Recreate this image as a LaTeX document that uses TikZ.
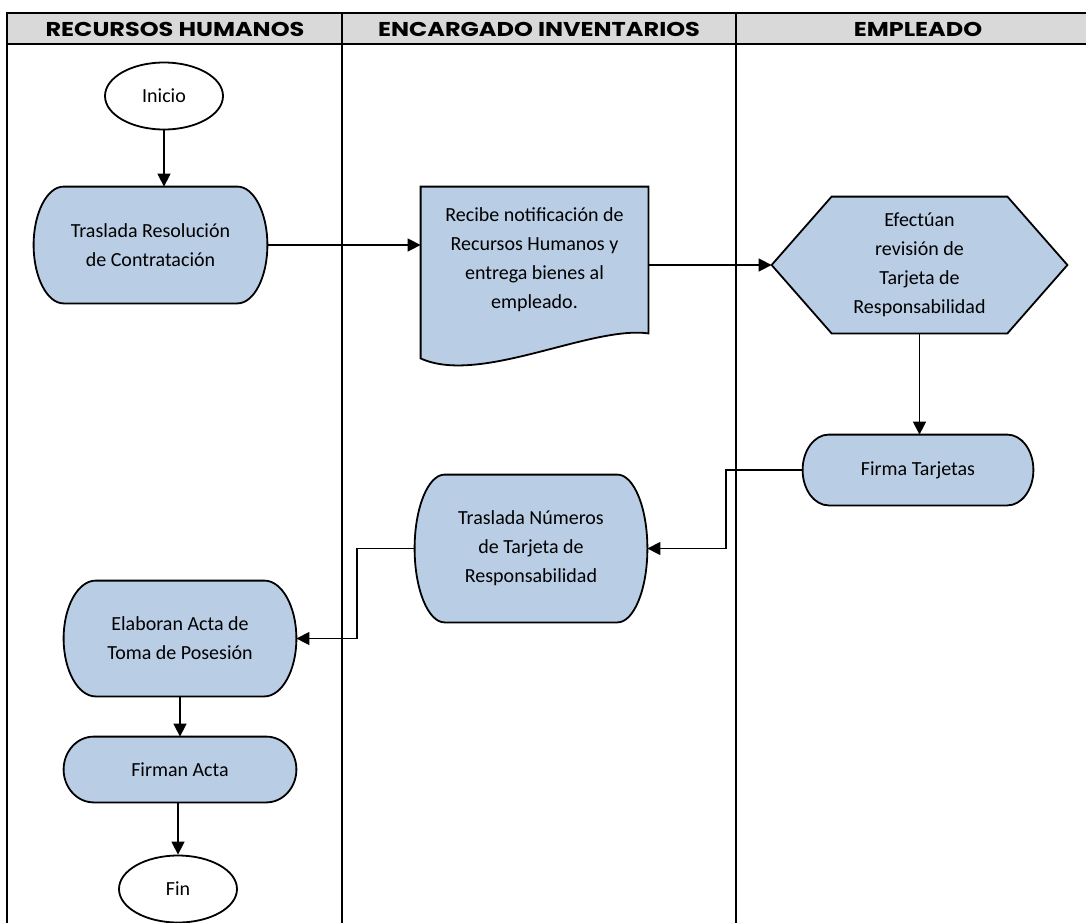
\documentclass[tikz,border=0pt]{standalone}
\usepackage{fontspec}
\setmainfont{Carlito}
\newfontfamily\headfont{Poppins}[FakeStretch=1.2]
\usetikzlibrary{shapes.geometric,arrows.meta,backgrounds,calc}
\definecolor{procblue}{HTML}{B9CDE5}
\definecolor{headgray}{HTML}{D9D9D9}
\tikzset{
  flow/.style={-{Triangle[length=6.5pt,width=6.5pt]}, line width=0.75pt},
  lanehead/.style={font=\headfont\bfseries\fontsize{10}{12}\selectfont},
  startend/.style={ellipse, draw, line width=0.9pt, minimum width=59pt, minimum height=33.5pt, inner sep=0pt},
  textbox/.style={align=center, inner sep=0pt},
  outline/.style={draw, fill=procblue, line width=0.9pt},
  frame/.style={line width=1pt},
}
\begin{document}
\begin{tikzpicture}[x=0.5pt, y=0.5pt, font=\fontsize{10}{14.5}\selectfont]
        \useasboundingbox (0,0) rectangle (1086,-922);

        % Lanes
        \fill[headgray] (7,-13) rectangle (1090,-44);
        \draw[frame] (7,-930) -- (7,-13) -- (1090,-13);
        \draw[frame] (7,-44) -- (1090,-44);
        \draw[line width=0.75pt] (342,-13) -- (342,-930);
        \draw[line width=0.75pt] (736,-13) -- (736,-930);
        \node (hrh) [lanehead] at (175,-29) {RECURSOS HUMANOS};
        \node (hei) [lanehead] at (539,-29) {ENCARGADO INVENTARIOS};
        \node (hem) [lanehead] at (918,-29) {EMPLEADO};

        % Nodes
        \node (inicio) [startend] at (164,-96) {Inicio};
        \node (trasres) [textbox, minimum width=116.5pt, minimum height=58pt] at (150.5,-245) {Traslada Resolución\\de Contratación};
        \node (recibe) [textbox, minimum width=113.5pt, minimum height=73pt] at (534.5,-260) {Recibe notificación de\\Recursos Humanos y\\entrega bienes al\\empleado.};
        \node (efect) [textbox, minimum width=147.5pt, minimum height=68pt] at (919.5,-265) {Efectúan\\revisión de\\Tarjeta de\\Responsabilidad};
        \node (firma) [textbox, minimum width=115pt, minimum height=35pt] at (918,-470) {Firma Tarjetas};
        \node (trasnum) [textbox, minimum width=116pt, minimum height=73.5pt] at (531,-548.5) {Traslada Números\\de Tarjeta de\\Responsabilidad};
        \node (elab) [textbox, minimum width=116pt, minimum height=57.5pt] at (180,-638.5) {Elaboran Acta de\\Toma de Posesión};
        \node (firman) [textbox, minimum width=116pt, minimum height=32.5pt] at (180,-769.5) {Firman Acta};
        \node (fin) [startend] at (178,-889) {Fin};
        \coordinate (bend1) at (726,-470);
        \coordinate (bend2) at (357,-548.5);

        % Shapes
        \begin{scope}[on background layer]
        \foreach \n/\b in {trasres/15pt, firma/13pt, trasnum/15pt, elab/16pt, firman/15pt}
          \draw[outline] ([xshift=\b]\n.north west) -- ([xshift=-\b]\n.north east)
            .. controls ($([xshift=-\b]\n.north east)!0.55!(\n.north east)$) and ($(\n.east)!0.55!(\n.north east)$) .. (\n.east)
            .. controls ($(\n.east)!0.55!(\n.south east)$) and ($([xshift=-\b]\n.south east)!0.55!(\n.south east)$) .. ([xshift=-\b]\n.south east)
            -- ([xshift=\b]\n.south west)
            .. controls ($([xshift=\b]\n.south west)!0.55!(\n.south west)$) and ($(\n.west)!0.55!(\n.south west)$) .. (\n.west)
            .. controls ($(\n.west)!0.55!(\n.north west)$) and ($([xshift=\b]\n.north west)!0.55!(\n.north west)$) .. ([xshift=\b]\n.north west)
            -- cycle;
        \draw[outline] (recibe.north west) -- (recibe.north east) -- (recibe.south east)
          .. controls ([xshift=-29pt,yshift=4pt]recibe.south east) and ([xshift=29.5pt,yshift=-26pt]recibe.south west) .. ([yshift=-12.5pt]recibe.south west) -- cycle;
        \draw[outline] (efect.west) -- ([xshift=30pt]efect.north west) -- ([xshift=-30pt]efect.north east) -- (efect.east)
          -- ([xshift=-30pt]efect.south east) -- ([xshift=30pt]efect.south west) -- cycle;
        \end{scope}

        % Edges
        \draw[flow] (inicio.south) -- (inicio.south |- trasres.north);
        \draw[flow] (trasres.east) -- (trasres.east -| recibe.west);
        \draw[flow] (efect.west -| recibe.east) -- (efect.west);
        \draw[flow] (efect.south) -- (efect.south |- firma.north);
        \draw[flow] (firma.west) -- (bend1) |- (trasnum.east);
        \draw[flow] (trasnum.west) -- (bend2) |- (elab.east);
        \draw[flow] (elab) -- (firman);
        \draw[flow] (firman.south -| fin.north) -- (fin.north);
    \end{tikzpicture}
\end{document}
